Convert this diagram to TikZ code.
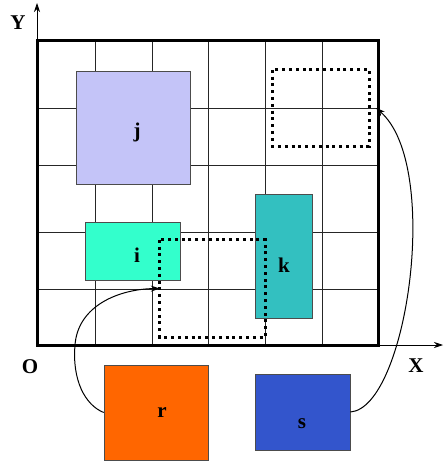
\documentclass[tikz,border=0pt]{standalone}
\usepackage{fontspec}
\setmainfont{Liberation Serif}
\usetikzlibrary{arrows.meta}
\definecolor{jcol}{HTML}{C4C4F8}
\definecolor{icol}{HTML}{33FFCC}
\definecolor{kcol}{HTML}{33C0C0}
\definecolor{rcol}{HTML}{FF6600}
\definecolor{scol}{HTML}{3355CC}
\begin{document}
\begin{tikzpicture}[x=1pt,y=-1pt,
  box/.style={draw=black!70,line width=0.6pt,inner sep=0pt},
  dotbox/.style={inner sep=0pt},
  dotline/.style={draw=black,line width=3.2pt,dash pattern=on 3pt off 3.8pt},
  gridline/.style={line width=0.8pt,black!85},
  frameline/.style={line width=3pt},
  axisline/.style={line width=0.8pt,-{Stealth[length=9pt,width=6pt]}},
  axlabel/.style={font=\fontsize{21}{23}\selectfont\bfseries},
  link/.style={line width=1pt,-{Stealth[length=9pt,width=6pt]}}]
\useasboundingbox (0,0) rectangle (444,462);
% grid
\foreach \x in {95,152,208,265,322} \draw[gridline] (\x,41) -- (\x,345);
\foreach \y in {108,165,232,289} \draw[gridline] (37,\y) -- (378,\y);
% frame
\draw[frameline] (37,41) rectangle (378,345);
% axes
\coordinate (ybase) at (37,41);
\coordinate (ytip) at (37,3);
\coordinate (xbase) at (378,345);
\coordinate (xtip) at (443,345);
\draw[axisline] (ybase) -- (ytip);
\draw[axisline] (xbase) -- (xtip);
\node[axlabel] (Y) at (18,23) {Y};
\node[axlabel] (X) at (416,366) {X};
\node[axlabel] (O) at (30,367) {O};
% boxes
\node[box,fill=jcol,minimum width=114pt,minimum height=113pt] (j) at (133,127.5) {};
\node[box,fill=icol,minimum width=95pt,minimum height=58pt] (i) at (132.5,251) {};
\node[box,fill=kcol,minimum width=57pt,minimum height=124pt] (k) at (283.5,256) {};
\node[box,fill=rcol,minimum width=104pt,minimum height=95pt] (r) at (156,412.5) {};
\node[box,fill=scol,minimum width=95pt,minimum height=76pt] (s) at (302.5,412) {};
\node[axlabel] (jl) at (137,132) {j};
\node[axlabel] (il) at (137,255) {i};
\node[axlabel] (kl) at (284,265) {k};
\node[axlabel] (rl) at (162,413) {r};
\node[axlabel] (sl) at (302,424) {s};
% dotted target boxes
\node[dotbox,minimum width=96pt,minimum height=76pt] (d1) at (321,108) {};
\node[dotbox,minimum width=105pt,minimum height=97pt] (d2) at (212.5,288.5) {};
\draw[dotline] (d1.north west) rectangle (d1.south east);
\draw[dotline] (d2.north west) rectangle (d2.south east);
\coordinate (d1end) at (376,108);
\coordinate (lowbend) at (75,345);
% connectors
\draw[link] (r.west) .. controls (85,405) and (72,380) .. (lowbend)
  .. controls (78,305) and (120,289) .. (d2.west);
\draw[link] (s.east) .. controls (407,408) and (442,165) .. (d1end);
\end{tikzpicture}
\end{document}
